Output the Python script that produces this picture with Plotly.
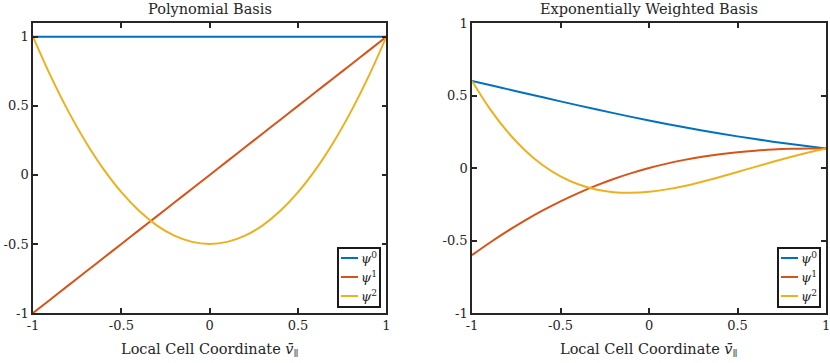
import plotly.graph_objects as go

# sample points along the local cell coordinate
x = [-1.0, -0.9, -0.8, -0.7, -0.6, -0.5, -0.4, -0.3, -0.2, -0.1, 0.0,
     0.1, 0.2, 0.3, 0.4, 0.5, 0.6, 0.7, 0.8, 0.9, 1.0]

# polynomial basis
poly_psi0 = [1.0] * 21
poly_psi1 = [-1.0, -0.9, -0.8, -0.7, -0.6, -0.5, -0.4, -0.3, -0.2, -0.1, 0.0,
             0.1, 0.2, 0.3, 0.4, 0.5, 0.6, 0.7, 0.8, 0.9, 1.0]
poly_psi2 = [1.0, 0.715, 0.46, 0.235, 0.04, -0.125, -0.26, -0.365, -0.44, -0.485, -0.5,
             -0.485, -0.44, -0.365, -0.26, -0.125, 0.04, 0.235, 0.46, 0.715, 1.0]

# exponentially weighted basis
exp_psi0 = [0.6005, 0.5724, 0.5441, 0.5157, 0.4876, 0.4596, 0.4320, 0.4049, 0.3784, 0.3528, 0.3279,
            0.3039, 0.2810, 0.2589, 0.2380, 0.2182, 0.1994, 0.1818, 0.1652, 0.1498, 0.1353]
exp_psi1 = [-0.6005, -0.5152, -0.4353, -0.3610, -0.2926, -0.2298, -0.1728, -0.1215, -0.0757, -0.0353, 0.0,
            0.0304, 0.0562, 0.0777, 0.0952, 0.1091, 0.1196, 0.1273, 0.1322, 0.1348, 0.1353]
exp_psi2 = [0.6005, 0.4093, 0.2503, 0.1212, 0.0195, -0.0575, -0.1123, -0.1478, -0.1665, -0.1711, -0.1640,
            -0.1474, -0.1236, -0.0945, -0.0619, -0.0273, 0.0080, 0.0427, 0.0760, 0.1071, 0.1353]

names = ["<i>ψ</i><sup>0</sup>", "<i>ψ</i><sup>1</sup>", "<i>ψ</i><sup>2</sup>"]
colors = ["#0072BD", "#D95319", "#EDB120"]
tickvals = [-1, -0.5, 0, 0.5, 1]
ticktext = ["-1", "-0.5", "0", "0.5", "1"]

W, H = 830, 363
FONT = "DejaVu Serif"
AXC = "#262626"
XLABEL = "Local Cell Coordinate <i>v̄</i><sub>ǁ</sub>"

fig = go.Figure()
for ys, nm, c in zip([poly_psi0, poly_psi1, poly_psi2], names, colors):
    fig.add_trace(go.Scatter(x=x, y=ys, name=nm, mode="lines", line=dict(color=c, width=2, shape="spline"),
                             xaxis="x", yaxis="y"))
for ys, nm, c in zip([exp_psi0, exp_psi1, exp_psi2], names, colors):
    fig.add_trace(go.Scatter(x=x, y=ys, name=nm, mode="lines", line=dict(color=c, width=2, shape="spline"),
                             xaxis="x2", yaxis="y2"))

axis_common = dict(showline=True, linecolor=AXC, linewidth=1.5, mirror="ticks", ticks="inside",
                   ticklen=5, tickwidth=1.5, tickcolor=AXC, showgrid=False, zeroline=False,
                   automargin=False, tickvals=tickvals, ticktext=ticktext, ticklabeloverflow="allow",
                   tickfont=dict(family=FONT, size=13, color=AXC))

# boxed legends drawn in pixel positions (converted to paper fractions)
shapes, annotations = [], []
for left in (338, 778):
    shapes.append(dict(type="rect", xref="paper", yref="paper", layer="above",
                       x0=left / W, x1=(left + 42) / W, y0=1 - 307 / H, y1=1 - 248 / H,
                       line=dict(color="#1a1a1a", width=2), fillcolor="white"))
    for i, (nm, c) in enumerate(zip(names, colors)):
        yy = 1 - (258 + 19 * i) / H
        shapes.append(dict(type="line", xref="paper", yref="paper", layer="above",
                           x0=(left + 3) / W, x1=(left + 20) / W, y0=yy, y1=yy,
                           line=dict(color=c, width=2)))
        annotations.append(dict(text=nm, x=(left + 21) / W, y=yy, xref="paper", yref="paper",
                                xanchor="left", yanchor="middle", showarrow=False,
                                font=dict(family=FONT, size=13, color=AXC)))

for text, xc, yc in [("Polynomial Basis", 0.2526, 0.975),
                     ("Exponentially Weighted Basis", 0.782, 0.975),
                     (XLABEL, 0.2526, 0.036),
                     (XLABEL, 0.782, 0.036)]:
    annotations.append(dict(text=text, x=xc, y=yc, xref="paper", yref="paper",
                            xanchor="center", yanchor="middle", showarrow=False,
                            font=dict(family=FONT, size=14.5, color=AXC)))

fig.update_layout(
    width=W, height=H,
    margin=dict(l=0, r=0, t=0, b=0, autoexpand=False),
    plot_bgcolor="white", paper_bgcolor="white",
    font=dict(family=FONT, color=AXC),
    showlegend=False,
    xaxis=dict(domain=[0.0398, 0.4655], range=[-1, 1], anchor="y", **axis_common),
    yaxis=dict(domain=[0.1377, 0.9366], range=[-1, 1.1], anchor="x", **axis_common),
    xaxis2=dict(domain=[0.5687, 0.9952], range=[-1, 1], anchor="y2", **axis_common),
    yaxis2=dict(domain=[0.1377, 0.9366], range=[-1, 1], anchor="x2", **axis_common),
    shapes=shapes,
    annotations=annotations,
)

fig.write_html("out.html", config={"displayModeBar": False},
               post_script="document.body.style.margin='0';")
